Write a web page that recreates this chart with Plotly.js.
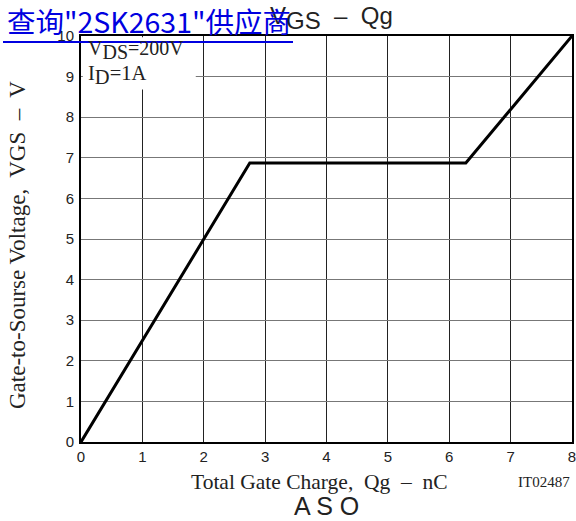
<!DOCTYPE html>
<html>
<head>
<meta charset="utf-8">
<script src="https://cdn.plot.ly/plotly-3.0.1.min.js"></script>
<style>html,body{margin:0;padding:0;background:#fff;}#chart{width:576px;height:521px;}</style>
</head>
<body>
<div id="chart"></div>
<script>
// Data
const qg = [0, 2.75, 6.27, 8];          // Total gate charge, nC
const vgs = [0, 6.87, 6.87, 10];        // Gate-to-source voltage, V
const xTicks = [0, 1, 2, 3, 4, 5, 6, 7, 8];
const yTicks = [0, 1, 2, 3, 4, 5, 6, 7, 8, 9, 10];

const serif = '"Liberation Serif", "Times New Roman", serif';
const sans = '"Liberation Sans", Arial, sans-serif';

const trace = {
  x: qg, y: vgs, mode: 'lines', type: 'scatter',
  line: {color: '#000', width: 3}, hoverinfo: 'skip', showlegend: false
};

function px(x) { return (x - 81) / 491; }
function py(y) { return (442 - y) / 406; }

function ann(text, x, y, font, extra) {
  return Object.assign({text: text, xref: 'paper', yref: 'paper', x: px(x), y: py(y),
    xanchor: 'center', yanchor: 'middle', showarrow: false, font: font}, extra || {});
}

const layout = {
  width: 576, height: 521,
  margin: {l: 81, r: 4, t: 36, b: 79},
  paper_bgcolor: '#fff', plot_bgcolor: '#fff',
  xaxis: {
    range: [0, 8], tickvals: xTicks, ticktext: xTicks.map(String),
    showgrid: true, gridcolor: '#222', gridwidth: 1,
    showline: true, linecolor: '#000', linewidth: 2, mirror: true,
    zeroline: false, ticks: '', fixedrange: true, ticklabeloverflow: 'allow',
    tickfont: {family: sans, size: 15, color: '#222'}
  },
  yaxis: {
    range: [0, 10], tickvals: yTicks, ticktext: yTicks.map(String),
    showgrid: true, gridcolor: '#777', gridwidth: 1,
    showline: true, linecolor: '#000', linewidth: 2, mirror: true,
    zeroline: false, ticks: '', fixedrange: true, ticklabelstandoff: 2, ticklabeloverflow: 'allow',
    tickfont: {family: sans, size: 15, color: '#222'}
  },
  shapes: [
    {type: 'rect', xref: 'x', yref: 'y', x0: 0.03, x1: 1.87, y0: 8.68, y1: 9.97,
     fillcolor: '#fff', line: {width: 0}, layer: 'above'},
    {type: 'line', xref: 'paper', yref: 'paper', x0: px(3), x1: px(293),
     y0: py(42), y1: py(42), line: {color: '#0000e0', width: 2}}
  ],
  annotations: [
    ann('V<sub><span style="font-size:24px">GS</span></sub>  –  Qg', 331, 18, {family: sans, size: 24, color: '#222'}),
    ann('查询"2SK2631"供应商', 5, 20, {family: '"Noto Sans CJK SC", sans-serif', size: 28.5, color: '#0000e0'}, {xanchor: 'left'}),
    ann('V<sub><span style="font-size:20px">DS</span></sub>=200V', 86, 50, {family: serif, size: 20, color: '#222'}, {xanchor: 'left'}),
    ann('I<sub><span style="font-size:20.5px">D</span></sub>=1A', 86, 75, {family: serif, size: 20.5, color: '#222'}, {xanchor: 'left'}),
    ann('Gate-to-Sourse Voltage,  VGS  –  V', 17, 245, {family: serif, size: 23, color: '#222'}, {textangle: -90}),
    ann('Total Gate Charge,  Qg  –  nC', 319, 482, {family: serif, size: 21.5, color: '#222'}),
    ann('IT02487', 572, 482, {family: serif, size: 15, color: '#222'}, {xanchor: 'right'}),
    ann('A S O', 326, 506, {family: sans, size: 25, color: '#222'})
  ]
};

Plotly.newPlot('chart', [trace], layout, {displayModeBar: false, staticPlot: true});
</script>
</body>
</html>
